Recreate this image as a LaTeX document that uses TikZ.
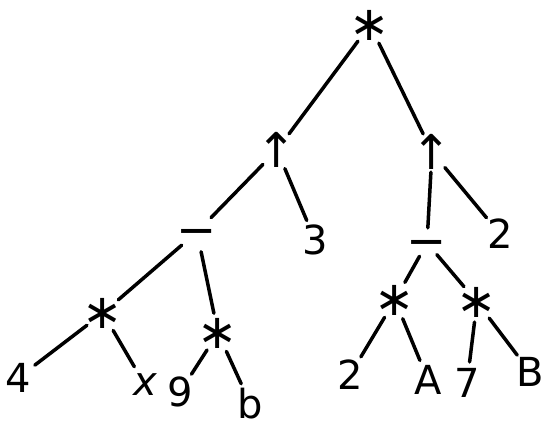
\documentclass[tikz,border=0pt]{standalone}
\usepackage{fontspec}
\setmainfont{DejaVu Sans}
\newcommand\ctr[2]{\smash{\makebox[0pt]{\raisebox{#1}{#2}}}}
\begin{document}
\begin{tikzpicture}[x=1pt,y=-1pt,
  lbl/.style={circle,inner sep=0pt,minimum size=42pt,font=\fontsize{40}{40}\selectfont},
  opn/.style={circle,inner sep=0pt,minimum size=40pt,font=\fontsize{48}{48}\selectfont},
  stroke/.style={line width=3.5pt,line cap=round}]
\path[use as bounding box,fill=white] (0,0) rectangle (555,432);
\node[opn] (r) at (370,25) {\ctr{-0.33em}{∗}};
\node[opn] (u1) at (277,150) {\ctr{-0.36em}{↑}};
\node[opn] (u2) at (432,152) {\ctr{-0.36em}{↑}};
\node[opn] (m1) at (197,232) {\ctr{-0.3em}{−}};
\node[lbl] (t3) at (315,240) {\ctr{-0.36em}{3}};
\node[opn,minimum size=30pt] (m2) at (427,243) {\ctr{-0.3em}{−}};
\node[lbl] (t2) at (500,234) {\ctr{-0.36em}{2}};
\node[opn] (s1) at (103,313) {\ctr{-0.33em}{∗}};
\node[opn] (s2) at (218,333) {\ctr{-0.33em}{∗}};
\node[opn] (s3) at (395,300) {\ctr{-0.33em}{∗}};
\node[opn] (s4) at (477,302) {\ctr{-0.33em}{∗}};
\node[lbl] (l4) at (18,378) {\ctr{-0.36em}{4}};
\node[lbl] (lx) at (145,385) {\ctr{-0.27em}{\itshape x}};
\node[lbl] (l9) at (180,392) {\ctr{-0.36em}{9}};
\node[lbl] (lb) at (250,403) {\ctr{-0.38em}{b}};
\node[lbl] (l2) at (350,375) {\ctr{-0.36em}{2}};
\node[lbl] (lA) at (428,380) {\ctr{-0.36em}{A}};
\node[lbl] (l7) at (467,383) {\ctr{-0.36em}{7}};
\node[lbl] (lB) at (530,372) {\ctr{-0.36em}{B}};
\foreach \a/\b in {r/u1,r/u2,u1/m1,u1/t3,u2/m2,u2/t2,m1/s1,m1/s2,s1/l4,s1/lx,s2/l9,s2/lb,m2/s3,m2/s4,s3/l2,s3/lA,s4/l7,s4/lB}
  \draw[stroke] (\a) -- (\b);
\end{tikzpicture}
\end{document}
